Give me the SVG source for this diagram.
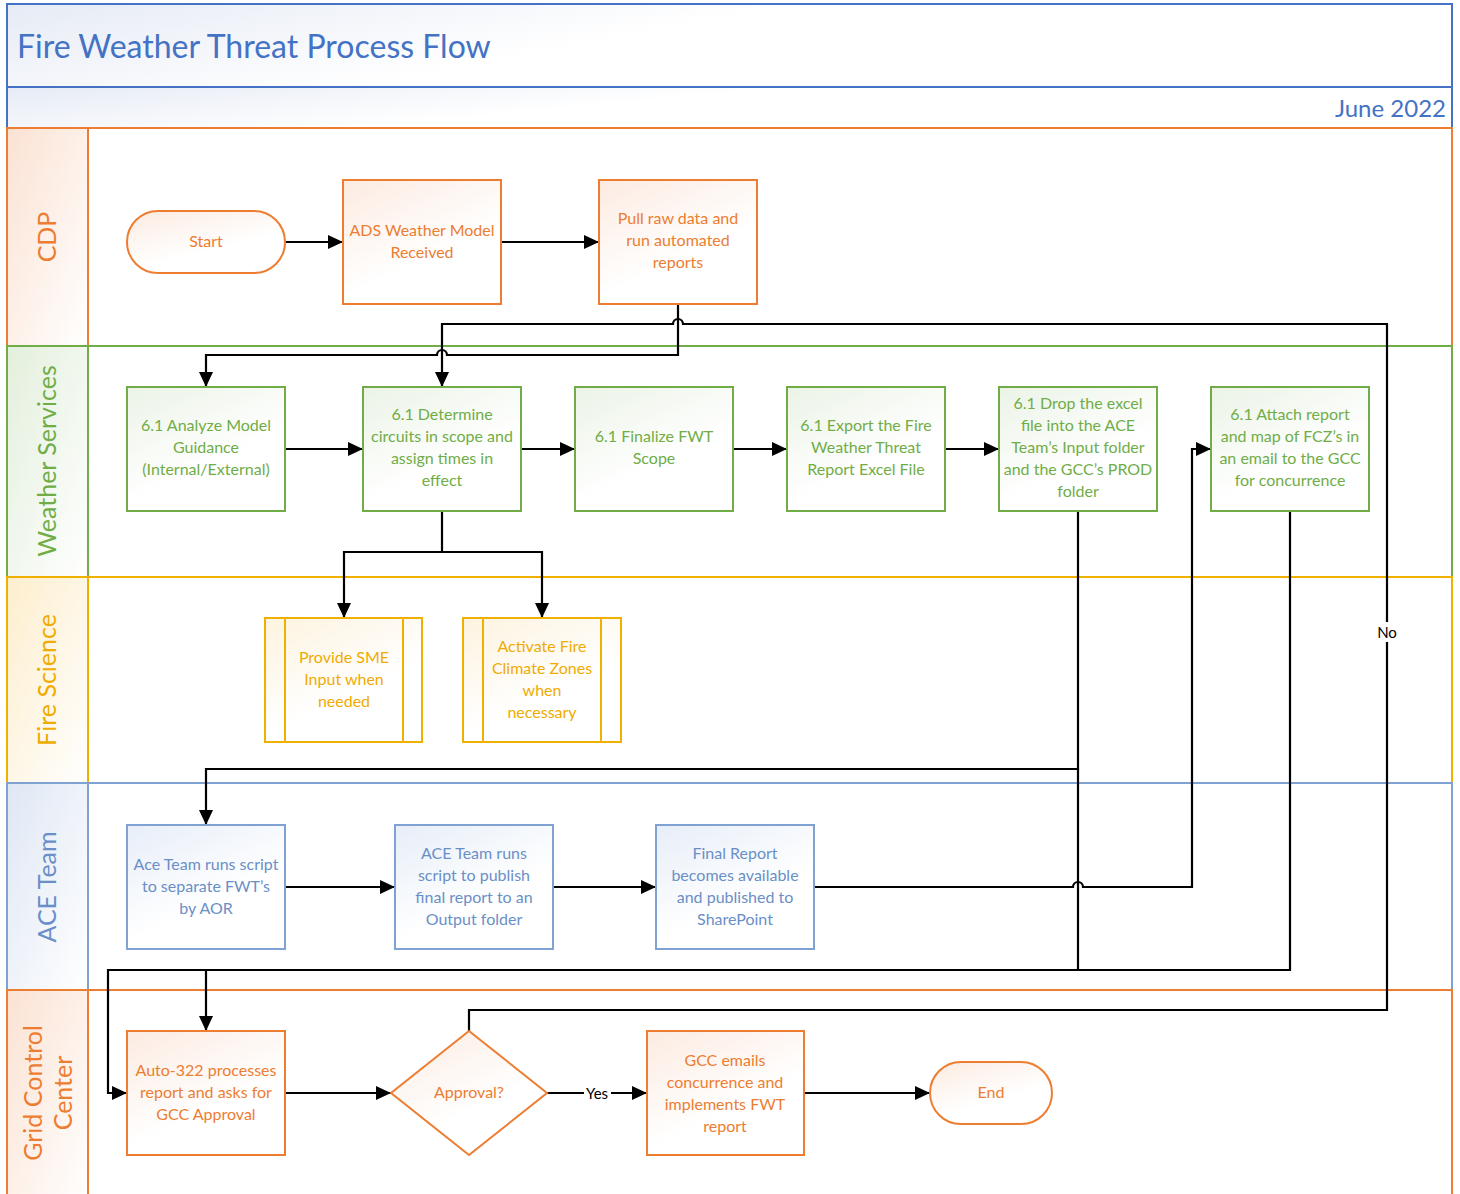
<svg xmlns="http://www.w3.org/2000/svg" width="1460" height="1194" viewBox="0 0 1460 1194">
<defs>
<linearGradient id="gHead" x1="0" y1="0" x2="1" y2="0.3"><stop offset="0" stop-color="#e6ebf5"/><stop offset="0.5" stop-color="#ffffff"/></linearGradient>
<linearGradient id="gO" x1="0" y1="0" x2="0.6" y2="1"><stop offset="0" stop-color="#fcebe1"/><stop offset="0.7" stop-color="#ffffff"/></linearGradient>
<linearGradient id="gG" x1="0" y1="0" x2="0.6" y2="1"><stop offset="0" stop-color="#ebf3e6"/><stop offset="0.7" stop-color="#ffffff"/></linearGradient>
<linearGradient id="gY" x1="0" y1="0" x2="0.6" y2="1"><stop offset="0" stop-color="#fdf3df"/><stop offset="0.7" stop-color="#ffffff"/></linearGradient>
<linearGradient id="gB" x1="0" y1="0" x2="0.6" y2="1"><stop offset="0" stop-color="#e7eef8"/><stop offset="0.7" stop-color="#ffffff"/></linearGradient>
<linearGradient id="lO" x1="0" y1="0" x2="1" y2="1"><stop offset="0" stop-color="#fbe2d3"/><stop offset="1" stop-color="#ffffff"/></linearGradient>
<linearGradient id="lG" x1="0" y1="0" x2="1" y2="1"><stop offset="0" stop-color="#e3efdc"/><stop offset="1" stop-color="#ffffff"/></linearGradient>
<linearGradient id="lY" x1="0" y1="0" x2="1" y2="1"><stop offset="0" stop-color="#fdeecd"/><stop offset="1" stop-color="#ffffff"/></linearGradient>
<linearGradient id="lB" x1="0" y1="0" x2="1" y2="1"><stop offset="0" stop-color="#dfe7f4"/><stop offset="1" stop-color="#ffffff"/></linearGradient>
<marker id="arr" markerUnits="userSpaceOnUse" markerWidth="16" markerHeight="14" refX="15" refY="7" orient="auto"><path d="M0,0 L15,7 L0,14 z" fill="#000"/></marker>
<style>
.t{font-family:Lato,"Open Sans","Liberation Sans",sans-serif;font-size:16px;text-anchor:middle}
.to{fill:#ed7d31}.tg{fill:#70ad47}.ty{fill:#f0ab00}.tb{fill:#6a8fc7}
.no{fill:url(#gO);stroke:#ed7d31;stroke-width:2}
.ng{fill:url(#gG);stroke:#70ad47;stroke-width:2}
.ny{fill:url(#gY);stroke:#f0b000;stroke-width:2}
.nb{fill:url(#gB);stroke:#7fa2d3;stroke-width:2}
.lane{font-family:Lato,"Open Sans","Liberation Sans",sans-serif;font-size:25px;text-anchor:middle}
.ca{fill:none;stroke:#000;stroke-width:2.2;marker-end:url(#arr)}
.lbl{font-family:Lato,"Open Sans","Liberation Sans",sans-serif;font-size:15px;text-anchor:middle;fill:#000}
</style>
</defs>
<rect width="1460" height="1194" fill="#ffffff"/>
<g id="header">
<rect x="7" y="4" width="1445" height="83" fill="url(#gHead)" stroke="#4472c4" stroke-width="2"/>
<rect x="7" y="87" width="1445" height="41" fill="url(#gHead)" stroke="#4472c4" stroke-width="2"/>
<text x="17" y="58" font-family="Lato,'Open Sans','Liberation Sans',sans-serif" font-size="32" fill="#4472c4">Fire Weather Threat Process Flow</text>
<text x="1446" y="117" font-family="Lato,'Open Sans','Liberation Sans',sans-serif" font-size="24" fill="#4472c4" text-anchor="end">June 2022</text>
</g>
<g id="lanes">
<rect x="7" y="128" width="1445" height="218" fill="none" stroke="#ed7d31" stroke-width="2"/>
<rect x="7" y="128" width="81" height="218" fill="url(#lO)" stroke="#ed7d31" stroke-width="2"/>
<text class="lane" fill="#ed7d31" transform="translate(56,237) rotate(-90)">CDP</text>
<rect x="7" y="346" width="1445" height="231" fill="none" stroke="#70ad47" stroke-width="2"/>
<rect x="7" y="346" width="81" height="231" fill="url(#lG)" stroke="#70ad47" stroke-width="2"/>
<text class="lane" fill="#70ad47" transform="translate(56,461) rotate(-90)">Weather Services</text>
<rect x="7" y="577" width="1445" height="206" fill="none" stroke="#f0b000" stroke-width="2"/>
<rect x="7" y="577" width="81" height="206" fill="url(#lY)" stroke="#f0b000" stroke-width="2"/>
<text class="lane" fill="#f0ab00" transform="translate(56,680) rotate(-90)">Fire Science</text>
<rect x="7" y="783" width="1445" height="207" fill="none" stroke="#7fa2d3" stroke-width="2"/>
<rect x="7" y="783" width="81" height="207" fill="url(#lB)" stroke="#7fa2d3" stroke-width="2"/>
<text class="lane" fill="#6a8fc7" transform="translate(56,887) rotate(-90)">ACE Team</text>
<rect x="7" y="990" width="1445" height="215" fill="none" stroke="#ed7d31" stroke-width="2"/>
<rect x="7" y="990" width="81" height="215" fill="url(#lO)" stroke="#ed7d31" stroke-width="2"/>
<text class="lane" fill="#ed7d31" transform="translate(42,1093) rotate(-90)">Grid Control</text>
<text class="lane" fill="#ed7d31" transform="translate(72,1093) rotate(-90)">Center</text>
</g>
<g id="connectors">
<path class="ca" d="M285,242 H343"/>
<path class="ca" d="M501,242 H599"/>
<path class="ca" d="M678,304 V355 H447 A5,5 0 0 0 437,355 H206 V387"/>
<path class="ca" d="M469,1031 V1010 H1387 V324 H683 A5,5 0 0 0 673,324 H442 V387"/>
<path class="ca" d="M285,449 H363"/>
<path class="ca" d="M521,449 H575"/>
<path class="ca" d="M733,449 H787"/>
<path class="ca" d="M945,449 H999"/>
<path class="ca" d="M442,511 V552 H344 V618"/>
<path class="ca" d="M442,552 H542 V618"/>
<path class="ca" d="M1078,511 V769 H206 V825"/>
<path class="ca" d="M1078,769 V970 H206 V1031"/>
<path class="ca" d="M1290,511 V970 H108 V1093 H127"/>
<path class="ca" d="M285,887 H395"/>
<path class="ca" d="M553,887 H656"/>
<path class="ca" d="M814,887 H1073 A5,5 0 0 1 1083,887 H1192 V449 H1211"/>
<path class="ca" d="M285,1093 H391"/>
<path class="ca" d="M547,1093 H647"/>
<path class="ca" d="M804,1093 H930"/>
<rect x="1374" y="622" width="26" height="20" fill="#ffffff"/>
<text class="lbl" x="1387" y="638">No</text>
<rect x="584" y="1083" width="27" height="20" fill="#ffffff"/>
<text class="lbl" x="597" y="1099">Yes</text>
</g>
<g id="n-start"><rect class="no" x="127" y="211" width="158" height="62" rx="31"/><text class="t to" x="206" y="247">Start</text></g>
<g id="n-ads"><rect class="no" x="343" y="180" width="158" height="124"/><text class="t to"><tspan x="422" y="236">ADS Weather Model</tspan><tspan x="422" y="258">Received</tspan></text></g>
<g id="n-pull"><rect class="no" x="599" y="180" width="158" height="124"/><text class="t to"><tspan x="678" y="224">Pull raw data and</tspan><tspan x="678" y="246">run automated</tspan><tspan x="678" y="268">reports</tspan></text></g>
<g id="n-analyze"><rect class="ng" x="127" y="387" width="158" height="124"/><text class="t tg"><tspan x="206" y="431">6.1 Analyze Model</tspan><tspan x="206" y="453">Guidance</tspan><tspan x="206" y="475">(Internal/External)</tspan></text></g>
<g id="n-determine"><rect class="ng" x="363" y="387" width="158" height="124"/><text class="t tg"><tspan x="442" y="420">6.1 Determine</tspan><tspan x="442" y="442">circuits in scope and</tspan><tspan x="442" y="464">assign times in</tspan><tspan x="442" y="486">effect</tspan></text></g>
<g id="n-finalize"><rect class="ng" x="575" y="387" width="158" height="124"/><text class="t tg"><tspan x="654" y="442">6.1 Finalize FWT</tspan><tspan x="654" y="464">Scope</tspan></text></g>
<g id="n-export"><rect class="ng" x="787" y="387" width="158" height="124"/><text class="t tg"><tspan x="866" y="431">6.1 Export the Fire</tspan><tspan x="866" y="453">Weather Threat</tspan><tspan x="866" y="475">Report Excel File</tspan></text></g>
<g id="n-drop"><rect class="ng" x="999" y="387" width="158" height="124"/><text class="t tg"><tspan x="1078" y="409">6.1 Drop the excel</tspan><tspan x="1078" y="431">file into the ACE</tspan><tspan x="1078" y="453">Team’s Input folder</tspan><tspan x="1078" y="475">and the GCC’s PROD</tspan><tspan x="1078" y="497">folder</tspan></text></g>
<g id="n-attach"><rect class="ng" x="1211" y="387" width="158" height="124"/><text class="t tg"><tspan x="1290" y="420">6.1 Attach report</tspan><tspan x="1290" y="442">and map of FCZ’s in</tspan><tspan x="1290" y="464">an email to the GCC</tspan><tspan x="1290" y="486">for concurrence</tspan></text></g>
<g id="n-sme"><rect class="ny" x="265" y="618" width="157" height="124"/><path d="M285,618 V742 M403,618 V742" stroke="#f0b000" stroke-width="2"/><text class="t ty"><tspan x="344" y="663">Provide SME</tspan><tspan x="344" y="685">Input when</tspan><tspan x="344" y="707">needed</tspan></text></g>
<g id="n-activate"><rect class="ny" x="463" y="618" width="158" height="124"/><path d="M483,618 V742 M601,618 V742" stroke="#f0b000" stroke-width="2"/><text class="t ty"><tspan x="542" y="652">Activate Fire</tspan><tspan x="542" y="674">Climate Zones</tspan><tspan x="542" y="696">when</tspan><tspan x="542" y="718">necessary</tspan></text></g>
<g id="n-acescript"><rect class="nb" x="127" y="825" width="158" height="124"/><text class="t tb"><tspan x="206" y="870">Ace Team runs script</tspan><tspan x="206" y="892">to separate FWT’s</tspan><tspan x="206" y="914">by AOR</tspan></text></g>
<g id="n-publish"><rect class="nb" x="395" y="825" width="158" height="124"/><text class="t tb"><tspan x="474" y="859">ACE Team runs</tspan><tspan x="474" y="881">script to publish</tspan><tspan x="474" y="903">final report to an</tspan><tspan x="474" y="925">Output folder</tspan></text></g>
<g id="n-final"><rect class="nb" x="656" y="825" width="158" height="124"/><text class="t tb"><tspan x="735" y="859">Final Report</tspan><tspan x="735" y="881">becomes available</tspan><tspan x="735" y="903">and published to</tspan><tspan x="735" y="925">SharePoint</tspan></text></g>
<g id="n-auto"><rect class="no" x="127" y="1031" width="158" height="124"/><text class="t to"><tspan x="206" y="1076">Auto-322 processes</tspan><tspan x="206" y="1098">report and asks for</tspan><tspan x="206" y="1120">GCC Approval</tspan></text></g>
<g id="n-approval"><path class="no" d="M469,1031 L547,1093 L469,1155 L391,1093 z"/><text class="t to" x="469" y="1098">Approval?</text></g>
<g id="n-gcc"><rect class="no" x="647" y="1031" width="157" height="124"/><text class="t to"><tspan x="725" y="1066">GCC emails</tspan><tspan x="725" y="1088">concurrence and</tspan><tspan x="725" y="1110">implements FWT</tspan><tspan x="725" y="1132">report</tspan></text></g>
<g id="n-end"><rect class="no" x="930" y="1062" width="122" height="62" rx="31"/><text class="t to" x="991" y="1098">End</text></g>
</svg>
